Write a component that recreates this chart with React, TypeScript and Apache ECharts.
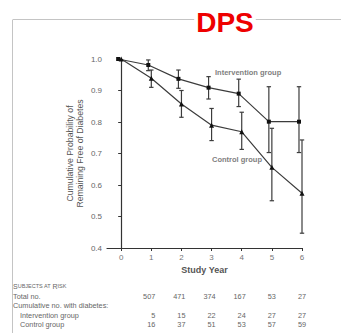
import React, { useEffect, useRef } from "react";
import * as echarts from "echarts";

const years = [0, 1, 2, 3, 4, 5, 6];
const xTickLabels = ["0", "1", "2", "3", "4", "5", "6"];
const interventionMean = [1.0, 0.981, 0.937, 0.909, 0.89, 0.801, 0.801];
const interventionLow = [1.0, 0.963, 0.907, 0.873, 0.849, 0.703, 0.703];
const interventionHigh = [1.0, 0.997, 0.965, 0.944, 0.936, 0.912, 0.912];
const controlMean = [1.0, 0.939, 0.857, 0.79, 0.769, 0.656, 0.574];
const controlLow = [1.0, 0.91, 0.815, 0.741, 0.713, 0.55, 0.447];
const controlHigh = [1.0, 0.965, 0.9, 0.843, 0.831, 0.78, 0.743];

const tableYears = [1, 2, 3, 4, 5, 6];
const totalAtRisk = [507, 471, 374, 167, 53, 27];
const cumIntervention = [5, 15, 22, 24, 27, 27];
const cumControl = [16, 37, 51, 53, 57, 59];

const INTERV_SHIFT = -0.1;
const FONT = "'Liberation Sans', Arial, Helvetica, sans-serif";
const LINE = "#3c3c3c";
const TXT = "#666";

export default function App() {
  const ref = useRef<HTMLDivElement>(null);
  useEffect(() => {
    if (!ref.current) return;
    const chart = echarts.init(ref.current, null, { renderer: "svg" });
    const intData = years.map((y, i) => [y + INTERV_SHIFT, interventionMean[i]]);
    const ctlData = years.map((y, i) => [y, controlMean[i]]);
    const intErr = years
      .map((y, i) => [y + INTERV_SHIFT, interventionLow[i], interventionHigh[i]])
      .filter((d) => d[1] !== d[2]);
    const ctlErr = years
      .map((y, i) => [y, controlLow[i], controlHigh[i]])
      .filter((d) => d[1] !== d[2]);

    const errRender = (params: any, api: any) => {
      const x = api.value(0);
      const lo = api.coord([x, api.value(1)]);
      const hi = api.coord([x, api.value(2)]);
      const cw = 2.2;
      const st = { stroke: LINE, lineWidth: 1.2 };
      return {
        type: "group",
        children: [
          { type: "line", shape: { x1: lo[0], y1: lo[1], x2: hi[0], y2: hi[1] }, style: st },
          { type: "line", shape: { x1: lo[0] - cw, y1: lo[1], x2: lo[0] + cw, y2: lo[1] }, style: st },
          { type: "line", shape: { x1: hi[0] - cw, y1: hi[1], x2: hi[0] + cw, y2: hi[1] }, style: st },
        ],
      };
    };

    chart.setOption({
      animation: false,
      grid: { left: 107, right: 39, top: 59, bottom: 85 },
      xAxis: {
        type: "value",
        min: -0.47,
        max: 6,
        splitLine: { show: false },
        axisLine: { lineStyle: { color: "#333", width: 1.2 } },
        axisTick: { customValues: years, length: 3, lineStyle: { color: "#333" } },
        axisLabel: {
          customValues: years,
          formatter: (v: number) => xTickLabels[years.indexOf(Math.round(v))] ?? "",
          color: "#777",
          fontSize: 8,
          fontFamily: FONT,
          margin: 5,
        },
        name: "Study Year",
        nameLocation: "middle",
        nameGap: 17,
        nameTextStyle: { color: "#555", fontSize: 9, fontWeight: "bold", fontFamily: FONT },
      },
      yAxis: {
        type: "value",
        min: 0.4,
        max: 1.0,
        interval: 0.1,
        splitLine: { show: false },
        axisLine: { show: true, lineStyle: { color: "#333", width: 1.2 } },
        axisTick: { show: true, length: 3, lineStyle: { color: "#333" } },
        axisLabel: {
          formatter: (v: number) => v.toFixed(1),
          color: TXT,
          fontSize: 8,
          fontFamily: FONT,
          margin: 5,
        },
      },
      series: [
        {
          type: "line",
          data: intData,
          symbol: "rect",
          symbolSize: 4,
          itemStyle: { color: "#111" },
          lineStyle: { color: LINE, width: 1.2 },
          z: 3,
        },
        {
          type: "line",
          data: ctlData,
          symbol: "triangle",
          symbolSize: 5,
          itemStyle: { color: "#111" },
          lineStyle: { color: LINE, width: 1.2 },
          z: 3,
        },
        { type: "custom", data: intErr, renderItem: errRender, z: 2 },
        { type: "custom", data: ctlErr, renderItem: errRender, z: 2 },
      ],
    });

    const px = (x: number) => chart.convertToPixel({ xAxisIndex: 0 }, x) as number;
    const rowY = { header: 286, total: 296.5, cum: 305, interv: 315.5, ctl: 324 };
    const small = { fontSize: 7.3, fill: TXT, fontFamily: FONT };
    const graphics: any[] = [
      { type: "line", shape: { x1: 13, y1: 19.5, x2: 341, y2: 19.5 }, style: { stroke: "#c4c4c4", lineWidth: 1 } },
      { type: "line", shape: { x1: 12.5, y1: 19.5, x2: 12.5, y2: 333 }, style: { stroke: "#c4c4c4", lineWidth: 1 } },
      {
        type: "text",
        x: 225,
        y: 22,
        style: {
          text: "DPS",
          fill: "#ee0000",
          fontSize: 28,
          fontWeight: "bold",
          fontFamily: FONT,
          align: "center",
          verticalAlign: "middle",
          backgroundColor: "#fff",
          padding: [0, 2],
        },
      },
      {
        type: "text",
        x: 75,
        y: 153.5,
        rotation: Math.PI / 2,
        style: {
          text: "Cumulative Probability of\nRemaining Free of Diabetes",
          fill: "#555",
          fontSize: 8.7,
          lineHeight: 10,
          fontFamily: FONT,
          align: "center",
          verticalAlign: "middle",
        },
      },
      {
        type: "text",
        x: 215,
        y: 72.5,
        style: { text: "Intervention group", fill: "#808080", fontSize: 7.5, fontWeight: "bold", fontFamily: FONT, verticalAlign: "middle" },
      },
      {
        type: "text",
        x: 212,
        y: 159,
        style: { text: "Control group", fill: "#808080", fontSize: 7.5, fontWeight: "bold", fontFamily: FONT, verticalAlign: "middle" },
      },
      {
        type: "text",
        x: 13,
        y: rowY.header,
        style: {
          text: "{b|S}{s|UBJECTS AT }{b|R}{s|ISK}",
          verticalAlign: "middle",
          rich: {
            b: { fontSize: 7, fill: TXT, fontFamily: FONT },
            s: { fontSize: 5.5, fill: TXT, fontFamily: FONT },
          },
        },
      },
      { type: "text", x: 13, y: rowY.total, style: { ...small, text: "Total no.", verticalAlign: "middle" } },
      { type: "text", x: 13, y: rowY.cum, style: { ...small, text: "Cumulative no. with diabetes:", verticalAlign: "middle" } },
      { type: "text", x: 20, y: rowY.interv, style: { ...small, text: "Intervention group", verticalAlign: "middle" } },
      { type: "text", x: 20, y: rowY.ctl, style: { ...small, text: "Control group", verticalAlign: "middle" } },
    ];
    const rows: [number[], number][] = [
      [totalAtRisk, rowY.total],
      [cumIntervention, rowY.interv],
      [cumControl, rowY.ctl],
    ];
    rows.forEach(([vals, y]) => {
      vals.forEach((v, i) => {
        graphics.push({
          type: "text",
          x: px(tableYears[i]) + 4,
          y,
          style: { ...small, text: String(v), align: "right", verticalAlign: "middle" },
        });
      });
    });
    chart.setOption({ graphic: graphics });

    return () => chart.dispose();
  }, []);
  return (
    <div
      ref={ref}
      style={{ position: "fixed", left: 0, top: 0, width: 341, height: 333, background: "#fff" }}
    />
  );
}
